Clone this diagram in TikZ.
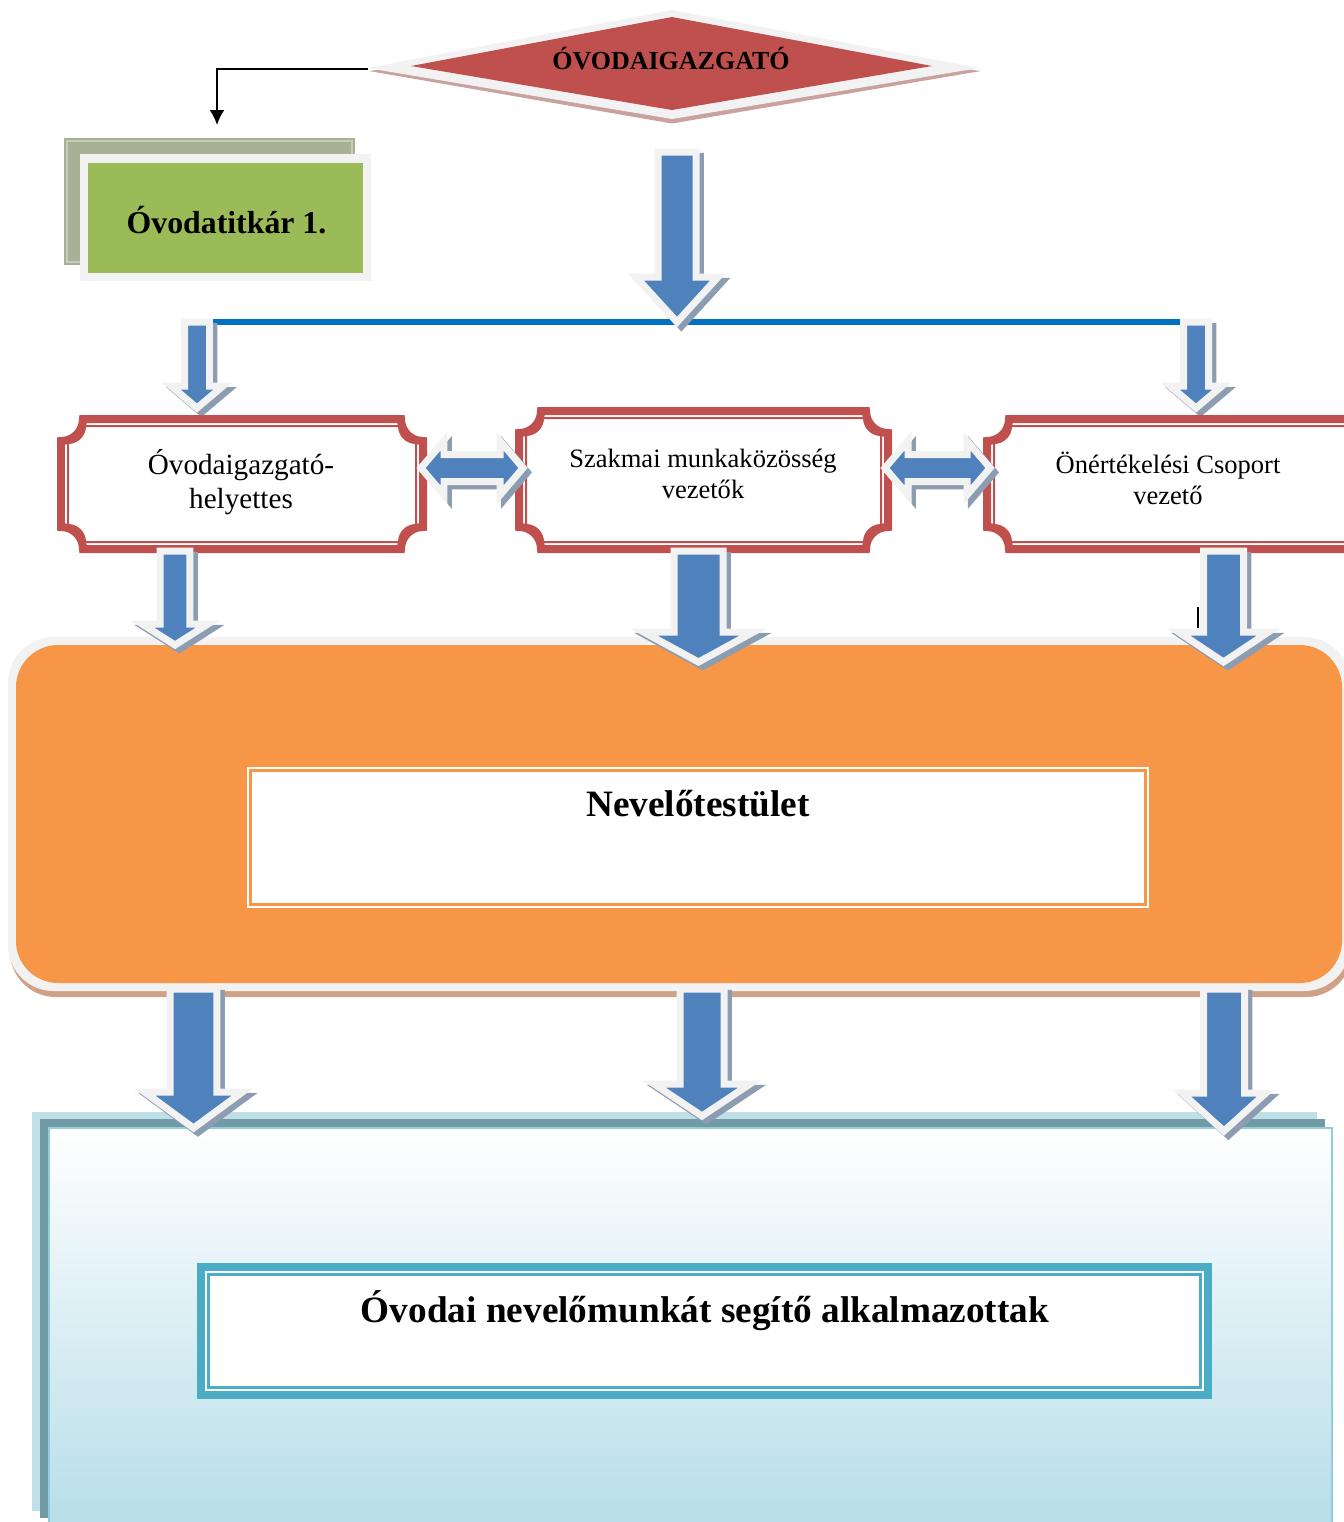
\documentclass[tikz,border=0pt]{standalone}
\usepackage{fontspec}
\setmainfont{Liberation Serif}
\usetikzlibrary{arrows, arrows.meta, calc}

\definecolor{piros}{HTML}{C0504D}
\definecolor{pirosarnyek}{HTML}{C9A19F}
\definecolor{halvany}{HTML}{F2F2F2}
\definecolor{zold}{HTML}{9BBB59}
\definecolor{zoldarnyek}{HTML}{A8B196}
\definecolor{zoldvonal}{HTML}{C6CCBA}
\definecolor{kek}{HTML}{4F81BD}
\definecolor{kekarnyek}{HTML}{8C9DB1}
\definecolor{vonalkek}{HTML}{0070C0}
\definecolor{narancs}{HTML}{F79646}
\definecolor{narancsarnyek}{HTML}{CFA285}
\definecolor{turkiz}{HTML}{4BACC6}
\definecolor{turkizvilagos}{HTML}{C1DFE7}
\definecolor{turkizsotet}{HTML}{6F9AA6}
\definecolor{turkizkeret}{HTML}{92CDDC}
\definecolor{turkizalj}{HTML}{B6DDE8}

\newcommand{\egyseg}{0.569055pt}
% plaque outline: x1 y1 x2 y2 r
\newcommand{\tablaut}[5]{({#1+#5},{#2}) -- ({#3-#5},{#2}) arc (180:90:#5) -- ({#3},{#4-#5}) arc (270:180:#5) -- ({#1+#5},{#4}) arc (0:-90:#5) -- ({#1},{#2+#5}) arc (90:0:#5) -- cycle}
\newcommand{\tabla}[4]{%
	\fill[white] \tablaut{#1}{#2}{#3}{#4}{22};
	\draw[piros, line width=8*\egyseg] \tablaut{#1+4}{#2+4}{#3-4}{#4-4}{22};
	\draw[piros, line width=2*\egyseg] \tablaut{#1+11}{#2+11}{#3-11}{#4-11}{17};}
% block arrow down: from, tip, shaft half width, head half width, head length
\newcommand{\lenyilut}[5]{let \p1=#1, \p2=#2 in (\x1-#3*\egyseg,\y1) -- (\x1-#3*\egyseg,\y2+#5*\egyseg) -- (\x1-#4*\egyseg,\y2+#5*\egyseg) -- (\x1,\y2) -- (\x1+#4*\egyseg,\y2+#5*\egyseg) -- (\x1+#3*\egyseg,\y2+#5*\egyseg) -- (\x1+#3*\egyseg,\y1) -- cycle}
\newcommand{\lenyil}[5]{%
	\filldraw[nyilarnyek] \lenyilut{#1}{#2}{#3}{#4}{#5};
	\filldraw[nyil] \lenyilut{#1}{#2}{#3}{#4}{#5};}
% block arrow both ways
\newcommand{\kettosut}[5]{let \p1=#1, \p2=#2 in (\x1,\y1) -- (\x1+#5*\egyseg,\y1+#4*\egyseg) -- (\x1+#5*\egyseg,\y1+#3*\egyseg) -- (\x2-#5*\egyseg,\y1+#3*\egyseg) -- (\x2-#5*\egyseg,\y1+#4*\egyseg) -- (\x2,\y1) -- (\x2-#5*\egyseg,\y1-#4*\egyseg) -- (\x2-#5*\egyseg,\y1-#3*\egyseg) -- (\x1+#5*\egyseg,\y1-#3*\egyseg) -- (\x1+#5*\egyseg,\y1-#4*\egyseg) -- cycle}
\newcommand{\kettosnyil}[5]{%
	\filldraw[nyilarnyek] \kettosut{#1}{#2}{#3}{#4}{#5};
	\filldraw[nyil] \kettosut{#1}{#2}{#3}{#4}{#5};}

\begin{document}
\begin{tikzpicture}[x=0.02cm, y=-0.02cm,
	nyil/.style={fill=kek, draw=halvany, line width=7*\egyseg, line join=miter},
	nyilarnyek/.style={fill=kekarnyek, draw=kekarnyek, line width=7*\egyseg, line join=miter, transform canvas={shift={(2.5pt,-2.5pt)}}},
	cimke/.style={inner sep=0pt, align=center}]
	\useasboundingbox (0,0) rectangle (1344,1522);
	\clip (0,0) rectangle (1344,1522);

	\coordinate (dbal) at (368,69);				%diamond left point
	\coordinate (titkarfelett) at (217,125);
	\coordinate (f0) at (677,152);	\coordinate (f0v) at (677,322);
	\coordinate (vonalbal) at (212,321.5);	\coordinate (vonaljobb) at (1180,321.5);
	\coordinate (v1) at (197,322);	\coordinate (v1v) at (197,408);
	\coordinate (v2) at (1196,322);	\coordinate (v2v) at (1196,408);
	\coordinate (k1) at (421,468);	\coordinate (k1v) at (523,468);
	\coordinate (k2) at (885,468);	\coordinate (k2v) at (990,468);
	\coordinate (h1) at (175,551);	\coordinate (h1v) at (175,645);
	\coordinate (sz1) at (698.5,551);	\coordinate (sz1v) at (698.5,662);
	\coordinate (o1) at (1223.5,551);	\coordinate (o1v) at (1223.5,662);
	\coordinate (n1) at (193.5,989);	\coordinate (n1v) at (193.5,1128);
	\coordinate (n2) at (702,989);	\coordinate (n2v) at (702,1116);
	\coordinate (n3) at (1224,989);	\coordinate (n3v) at (1224,1131);

	\fill[pirosarnyek] (369,71) -- (672,30) -- (981,71) -- (672,123.5) -- cycle;		%diamond shadow
	\fill[halvany] (367,68) -- (672,10) -- (979,68) -- (672,119) -- cycle;
	\fill[piros] (411,66) -- (672,17) -- (932,66) -- (672,110) -- cycle;
	\node[cimke, anchor=base, font=\bfseries\fontsize{14.8}{17}\selectfont] (igazgato) at (671,69) {ÓVODAIGAZGATÓ};
	\draw[line width=2*\egyseg, -{Latex[length=8.5pt,width=8.5pt]}] (dbal) -| (titkarfelett);

	\fill[zoldarnyek] (64,138) rectangle (355,265);		%secretary box
	\draw[zoldvonal, line width=1.5*\egyseg] (67,141) rectangle (352,262);
	\fill[halvany] (80,154) rectangle (371,281);
	\fill[zold] (88,163) rectangle (363,273);
	\node[cimke, anchor=base, font=\bfseries\fontsize{18.1}{21}\selectfont] (titkar) at (226.5,233) {Óvodatitkár 1.};

	\draw[vonalkek, line width=6*\egyseg] (vonalbal) -- (vonaljobb);		%blue line
	\lenyil{(f0)}{(f0v)}{19}{41}{45}
	\lenyil{(v1)}{(v1v)}{12.5}{26}{22}
	\lenyil{(v2)}{(v2v)}{12.5}{26}{22}

	\tabla{57}{415}{427}{553}			%left plaque
	\tabla{515}{407}{892}{553}			%middle plaque
	\tabla{983}{415}{1380}{553}			%right plaque
	\node[cimke, font=\fontsize{16.6}{19.35}\selectfont] (helyettes) at (241,482) {Óvodaigazgató-\\helyettes};
	\node[cimke, font=\fontsize{15.1}{17.6}\selectfont] (szakmai) at (703,473.5) {Szakmai munkaközösség\\vezetők};
	\node[cimke, font=\fontsize{15.1}{17.6}\selectfont] (onertekeles) at (1168,478.5) {Önértékelési Csoport\\vezető};
	\kettosnyil{(k1)}{(k1v)}{13.5}{27}{23}
	\kettosnyil{(k2)}{(k2v)}{13.5}{27}{23}

	\fill[narancsarnyek, rounded corners=26pt] (10,642) rectangle (1352,997);	%staff box
	\fill[halvany, rounded corners=26pt] (8,637) rectangle (1350,991);
	\fill[narancs, rounded corners=24pt] (16,645) rectangle (1342,983);
	\draw[white, line width=2*\egyseg] (248,768) rectangle (1148,907);
	\filldraw[fill=white, draw=narancs, line width=2*\egyseg] (251,771) rectangle (1145,904);
	\node[cimke, anchor=base, font=\bfseries\fontsize{21.2}{25}\selectfont] (nevelotestulet) at (698,816) {Nevelőtestület};
	\lenyil{(h1)}{(h1v)}{15}{33}{21}
	\lenyil{(sz1)}{(sz1v)}{24.5}{55}{30}
	\lenyil{(o1)}{(o1v)}{20}{45}{30}
	\draw[line width=1.2*\egyseg] (1198,607) -- (1198,628);		%stray mark

	\fill[turkizvilagos] (32,1112) rectangle (1317,1511);		%bottom box
	\fill[turkizsotet] (40,1119) rectangle (1325,1518);
	\shade[top color=white, bottom color=turkizalj] (48,1127) rectangle (1333,1530);
	\draw[turkizkeret, line width=2*\egyseg] (49,1128) rectangle (1332,1530);
	\fill[white] (197,1263) rectangle (1212,1399);
	\draw[turkiz, line width=8*\egyseg] (201,1267) rectangle (1208,1395);
	\draw[turkiz, line width=2.5*\egyseg] (208.5,1274.5) rectangle (1200.5,1387.5);
	\node[cimke, anchor=base, font=\bfseries\fontsize{21.2}{25}\selectfont] (alkalmazottak) at (705,1322) {Óvodai nevelőmunkát segítő alkalmazottak};
	\lenyil{(n1)}{(n1v)}{23.5}{49}{36}
	\lenyil{(n2)}{(n2v)}{22}{48}{32}
	\lenyil{(n3)}{(n3v)}{20.5}{42}{38}
\end{tikzpicture}
\end{document}
